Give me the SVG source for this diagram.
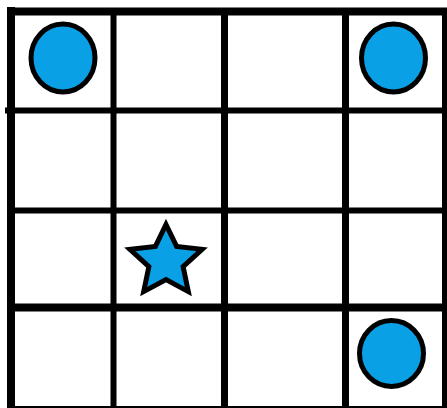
<svg xmlns="http://www.w3.org/2000/svg" width="447" height="408" viewBox="0 0 447 408">
<style>
.ln{stroke:#000;fill:none}
.tok{fill:#0AA0E6;stroke:#000;stroke-width:5}
</style>
<rect width="447" height="408" fill="#fff"/>
<g id="grid" class="ln">
<line x1="11" y1="7" x2="11" y2="408" stroke-width="8"/>
<line x1="113.5" y1="8" x2="113.5" y2="408" stroke-width="6"/>
<line x1="224.5" y1="8" x2="224.5" y2="408" stroke-width="7"/>
<line x1="345.5" y1="8" x2="345.5" y2="408" stroke-width="7"/>
<line x1="445" y1="8" x2="445" y2="408" stroke-width="6"/>
<line x1="7" y1="11.5" x2="447" y2="11.5" stroke-width="8"/>
<line x1="5" y1="110.5" x2="447" y2="110.5" stroke-width="6"/>
<line x1="7" y1="210.5" x2="447" y2="210.5" stroke-width="6"/>
<line x1="7" y1="307.5" x2="447" y2="307.5" stroke-width="8"/>
<line x1="7" y1="408" x2="447" y2="408" stroke-width="4"/>
</g>
<g id="circle-top-left"><ellipse class="tok" cx="63" cy="58" rx="32" ry="34"/></g>
<g id="circle-top-right"><ellipse class="tok" cx="393.5" cy="58" rx="32" ry="34"/></g>
<g id="circle-bottom-right"><ellipse class="tok" cx="391.5" cy="353.5" rx="32" ry="33"/></g>
<g id="star"><polygon class="tok" stroke-linejoin="miter" points="166,224.5 176.6,246.4 202.1,249.3 183.1,266.6 188.3,291.6 166,279.5 143.7,291.6 148.9,266.6 129.9,249.3 155.4,246.4"/></g>
</svg>
